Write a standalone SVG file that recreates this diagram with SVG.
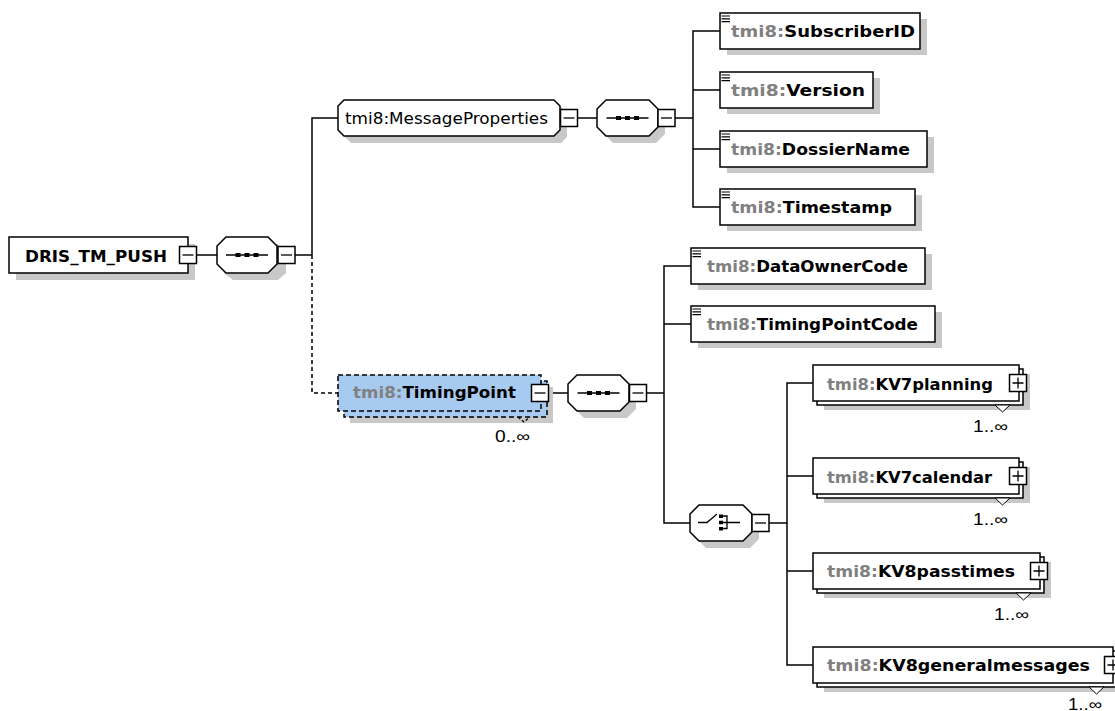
<svg xmlns="http://www.w3.org/2000/svg" width="1115" height="711" viewBox="0 0 1115 711">
<style>
.bg{fill:#fff}
.box{fill:#fff;stroke:#000;stroke-width:1.5}
.sh{fill:#c8c8c8}
.ln{stroke:#000;stroke-width:1.5;fill:none}
.thin{stroke:#000;stroke-width:1.3;fill:none}
.dash{stroke-dasharray:4 3}
.opt{fill:#a6caf0;stroke:#000;stroke-width:1.5;stroke-dasharray:5 3}
.lbl{font-family:"DejaVu Sans","Liberation Sans",sans-serif;font-size:15px;font-weight:bold;fill:#000}
.reg{font-family:"DejaVu Sans","Liberation Sans",sans-serif;font-size:15px;fill:#000}
.ns{fill:#808080}
.mult{font-family:"Liberation Sans",Arial,sans-serif;font-size:16px;fill:#000}
.dot{fill:#000}
</style>
<defs>
<g id="minus"><rect class="box" x="0" y="0" width="17" height="17"/><path class="thin" d="M3 8.5H14"/></g>
<g id="plus"><rect class="box" x="0" y="0" width="17" height="17"/><path class="thin" d="M3 8.5H14M8.5 3V14"/></g>
<g id="leaficon"><path stroke="#000" stroke-width="1.2" d="M1.5 3H10M1.5 5.8H10M1.5 8.6H10"/></g>
<g id="seqicon"><path class="thin" d="M-21 0H21"/><rect class="dot" x="-11.5" y="-2" width="5" height="4"/><rect class="dot" x="-2.5" y="-2" width="5" height="4"/><rect class="dot" x="6.5" y="-2" width="5" height="4"/></g>
</defs>
<rect class="bg" x="0" y="0" width="1115" height="711"/>

<g id="connectors">
<path class="ln" d="M197 255H217"/>
<path class="ln" d="M295 255H312"/>
<path class="ln" d="M312 255V118H338"/>
<path class="ln dash" d="M312 255V393H338"/>
<path class="ln" d="M578 118H597"/>
<path class="ln" d="M675 118H693"/>
<path class="ln" d="M720 31H693V207H720M693 90H720M693 149H720"/>
<path class="ln" d="M548 393H568"/>
<path class="ln" d="M647 393H664"/>
<path class="ln" d="M691 266H664V523H690M664 324H691"/>
<path class="ln" d="M768 523H787"/>
<path class="ln" d="M813 383H787V665H813M787 476H813M787 571H813"/>
</g>

<g id="DRIS_TM_PUSH">
<rect class="sh" x="16" y="244" width="179" height="36"/>
<rect class="box" x="9" y="237" width="179" height="36"/>
<text class="lbl" x="25" y="262" textLength="142" lengthAdjust="spacingAndGlyphs">DRIS_TM_PUSH</text>
<use href="#minus" x="179.5" y="246.5"/>
</g>

<g id="seq_root">
<path class="sh" d="M233 244H278L286 252V273L278 280H233L224 273V252Z"/>
<path class="box" d="M226 237H268L277 246V264L268 273H226L217 264V246Z"/>
<use href="#seqicon" x="247" y="255"/>
<use href="#minus" x="278" y="246.5"/>
</g>

<g id="MessageProperties">
<path class="sh" d="M351 107H561L567 113V137L561 143H351L345 137V113Z"/>
<path class="box" d="M344 100H554L560 106V130L554 136H344L338 130V106Z"/>
<text class="reg" x="345" y="124" textLength="203" lengthAdjust="spacingAndGlyphs">tmi8:MessageProperties</text>
<use href="#minus" x="560.5" y="109.5"/>
</g>

<g id="seq_mp">
<path class="sh" d="M613 107H656L665 116V134L656 143H613L604 134V116Z"/>
<path class="box" d="M606 100H649L658 109V127L649 136H606L597 127V109Z"/>
<use href="#seqicon" x="627.5" y="118"/>
<use href="#minus" x="658" y="109.5"/>
</g>

<g id="SubscriberID">
<rect class="sh" x="727" y="19" width="200" height="36"/>
<rect class="box" x="720" y="13" width="200" height="36"/>
<use href="#leaficon" x="720" y="13"/>
<text class="lbl" x="731" y="37" textLength="184" lengthAdjust="spacingAndGlyphs"><tspan class="ns">tmi8:</tspan>SubscriberID</text>
</g>
<g id="Version">
<rect class="sh" x="727" y="78" width="153" height="36"/>
<rect class="box" x="720" y="72" width="153" height="36"/>
<use href="#leaficon" x="720" y="72"/>
<text class="lbl" x="731" y="96" textLength="134" lengthAdjust="spacingAndGlyphs"><tspan class="ns">tmi8:</tspan>Version</text>
</g>
<g id="DossierName">
<rect class="sh" x="727" y="137" width="207" height="36"/>
<rect class="box" x="720" y="131" width="207" height="36"/>
<use href="#leaficon" x="720" y="131"/>
<text class="lbl" x="731" y="155" textLength="179" lengthAdjust="spacingAndGlyphs"><tspan class="ns">tmi8:</tspan>DossierName</text>
</g>
<g id="Timestamp">
<rect class="sh" x="727" y="195" width="195" height="36"/>
<rect class="box" x="720" y="189" width="195" height="36"/>
<use href="#leaficon" x="720" y="189"/>
<text class="lbl" x="731" y="213" textLength="161" lengthAdjust="spacingAndGlyphs"><tspan class="ns">tmi8:</tspan>Timestamp</text>
</g>

<g id="TimingPoint">
<rect class="sh" x="350" y="387" width="203" height="36"/>
<rect class="opt" x="344" y="381" width="203" height="36"/>
<rect class="opt" x="338" y="375" width="203" height="36"/>
<text class="lbl" x="353" y="398" textLength="163" lengthAdjust="spacingAndGlyphs"><tspan class="ns">tmi8:</tspan>TimingPoint</text>
<use href="#minus" x="531.5" y="384.5"/>
<path class="thin" d="M518 417L524 422L530 417" stroke-dasharray="3 2"/>
<text class="mult" x="495" y="442" textLength="35" lengthAdjust="spacingAndGlyphs">0..∞</text>
</g>

<g id="seq_tp">
<path class="sh" d="M584 382H627L636 391V409L627 418H584L575 409V391Z"/>
<path class="box" d="M577 375H620L629 384V402L620 411H577L568 402V384Z"/>
<use href="#seqicon" x="598.5" y="393"/>
<use href="#minus" x="629.5" y="384.5"/>
</g>

<g id="DataOwnerCode">
<rect class="sh" x="698" y="254" width="234" height="36"/>
<rect class="box" x="691" y="248" width="234" height="36"/>
<use href="#leaficon" x="691" y="248"/>
<text class="lbl" x="707" y="272" textLength="201" lengthAdjust="spacingAndGlyphs"><tspan class="ns">tmi8:</tspan>DataOwnerCode</text>
</g>
<g id="TimingPointCode">
<rect class="sh" x="698" y="312" width="244" height="36"/>
<rect class="box" x="691" y="306" width="244" height="36"/>
<use href="#leaficon" x="691" y="306"/>
<text class="lbl" x="707" y="330" textLength="211" lengthAdjust="spacingAndGlyphs"><tspan class="ns">tmi8:</tspan>TimingPointCode</text>
</g>

<g id="choice">
<path class="sh" d="M706 512H750L759 521V539L750 548H706L697 539V521Z"/>
<path class="box" d="M699 505H743L752 514V532L743 541H699L690 532V514Z"/>
<path class="thin" d="M698 522.5H707L717 514"/>
<rect class="dot" x="719" y="514.5" width="4" height="3.5"/>
<rect class="dot" x="719" y="520.75" width="4" height="3.5"/>
<rect class="dot" x="719" y="527" width="4" height="3.5"/>
<path class="thin" d="M723 516H727V528.5H723M723 522.5H740"/>
<use href="#minus" x="752" y="514.5"/>
</g>

<g id="KV7planning">
<rect class="sh" x="824" y="374" width="206" height="36"/>
<rect class="box" x="817" y="369" width="206" height="36"/>
<rect class="box" x="813" y="365" width="206" height="36"/>
<text class="lbl" x="827" y="390" textLength="166" lengthAdjust="spacingAndGlyphs"><tspan class="ns">tmi8:</tspan>KV7planning</text>
<use href="#plus" x="1009.5" y="374.5"/>
<path fill="#fff" stroke="#000" stroke-width="1" d="M995 405H1010L1002.5 412Z"/>
<text class="mult" x="973" y="432" textLength="35" lengthAdjust="spacingAndGlyphs">1..∞</text>
</g>
<g id="KV7calendar">
<rect class="sh" x="824" y="467" width="206" height="36"/>
<rect class="box" x="817" y="462" width="206" height="36"/>
<rect class="box" x="813" y="458" width="206" height="36"/>
<text class="lbl" x="827" y="483" textLength="165" lengthAdjust="spacingAndGlyphs"><tspan class="ns">tmi8:</tspan>KV7calendar</text>
<use href="#plus" x="1009.5" y="467.5"/>
<path fill="#fff" stroke="#000" stroke-width="1" d="M995 498H1010L1002.5 505Z"/>
<text class="mult" x="973" y="525" textLength="35" lengthAdjust="spacingAndGlyphs">1..∞</text>
</g>
<g id="KV8passtimes">
<rect class="sh" x="824" y="562" width="227" height="36"/>
<rect class="box" x="817" y="557" width="227" height="36"/>
<rect class="box" x="813" y="553" width="227" height="36"/>
<text class="lbl" x="827" y="577" textLength="188" lengthAdjust="spacingAndGlyphs"><tspan class="ns">tmi8:</tspan>KV8passtimes</text>
<use href="#plus" x="1030.5" y="562.5"/>
<path fill="#fff" stroke="#000" stroke-width="1" d="M1016 593H1031L1023.5 600Z"/>
<text class="mult" x="994" y="620" textLength="35" lengthAdjust="spacingAndGlyphs">1..∞</text>
</g>
<g id="KV8generalmessages">
<rect class="sh" x="824" y="656" width="300" height="36"/>
<rect class="box" x="817" y="651" width="300" height="36"/>
<rect class="box" x="813" y="647" width="300" height="36"/>
<text class="lbl" x="827" y="671" textLength="263" lengthAdjust="spacingAndGlyphs"><tspan class="ns">tmi8:</tspan>KV8generalmessages</text>
<use href="#plus" x="1104.5" y="656.5"/>
<path fill="#fff" stroke="#000" stroke-width="1" d="M1089 687H1104L1096.5 694Z"/>
<text class="mult" x="1068" y="710" textLength="34" lengthAdjust="spacingAndGlyphs">1..∞</text>
</g>
</svg>
